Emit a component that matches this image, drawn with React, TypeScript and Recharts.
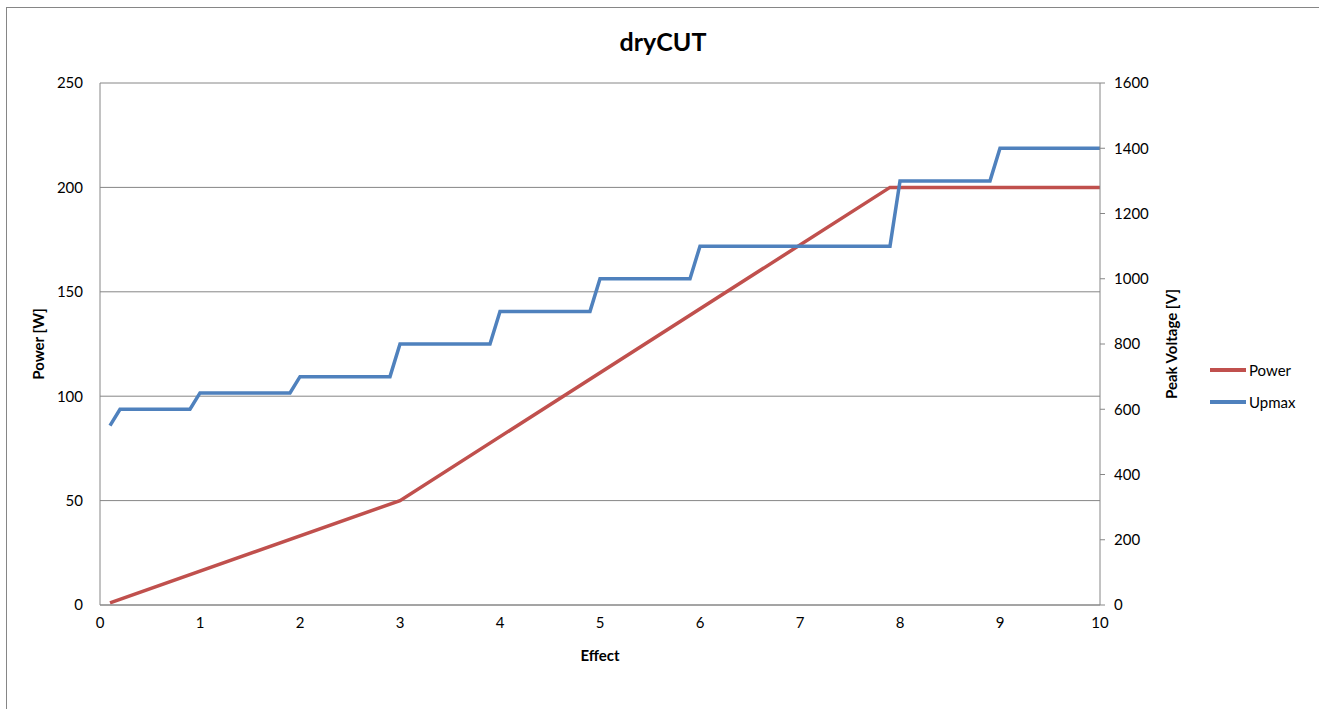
import { CartesianGrid, Label, Line, LineChart, XAxis, YAxis } from 'recharts';

const effectTicks = [0, 1, 2, 3, 4, 5, 6, 7, 8, 9, 10];
const powerTicks = [0, 50, 100, 150, 200, 250];
const voltageTicks = [0, 200, 400, 600, 800, 1000, 1200, 1400, 1600];

const powerEffect = [0.1, 3, 7.9, 10];
const powerValues = [1, 50, 200, 200];

const upmaxEffect = [0.1, 0.2, 0.9, 1, 1.9, 2, 2.9, 3, 3.9, 4, 4.9, 5, 5.9, 6, 7.9, 8, 8.9, 9, 10];
const upmaxValues = [550, 600, 600, 650, 650, 700, 700, 800, 800, 900, 900, 1000, 1000, 1100, 1100, 1300, 1300, 1400, 1400];

const seriesNames = ['Power', 'Upmax'];
const seriesColors = ['#C0504D', '#4F81BD'];

const powerData = powerEffect.map((x, i) => ({ x, power: powerValues[i] }));
const upmaxData = upmaxEffect.map((x, i) => ({ x, upmax: upmaxValues[i] }));

const font = 'Lato, "Open Sans", sans-serif';
const grey = '#868686';
const tickStyle = { fill: '#000', fontSize: 15, fontFamily: font };
const axisTitle = { textAnchor: 'middle' as const, fill: '#000', fontSize: 15, fontWeight: 700, fontFamily: font };

export default function App() {
    return (
        <div style={{ position: 'fixed', left: 0, top: 0, width: 1319, height: 709, background: '#fff', overflow: 'hidden' }}>
            <div style={{ position: 'absolute', left: 6, top: 7, width: 1330, height: 720, border: `1px solid ${grey}` }} />
            <div style={{ position: 'absolute', left: 0, width: 1326, top: 26, textAlign: 'center', fontFamily: font, fontWeight: 700, fontSize: 25 }}>
                dryCUT
            </div>
            <LineChart
                width={1319}
                height={709}
                margin={{ top: 83, right: 139, bottom: 44, left: 0 }}
                style={{ position: 'absolute', left: 0, top: 0 }}
            >
                <CartesianGrid yAxisId="left" vertical={false} stroke={grey} strokeOpacity={1} />
                <XAxis
                    dataKey="x"
                    type="number"
                    domain={[0, 10]}
                    ticks={effectTicks}
                    allowDuplicatedCategory={false}
                    stroke={grey}
                    tickLine={false}
                    tick={tickStyle}
                    tickMargin={6}
                    height={60}
                >
                    <Label value="Effect" position="insideTop" offset={45} style={axisTitle} />
                </XAxis>
                <YAxis
                    yAxisId="left"
                    domain={[0, 250]}
                    ticks={powerTicks}
                    stroke={grey}
                    tickLine={false}
                    tick={tickStyle}
                    tickMargin={11}
                    width={100}
                >
                    <Label value="Power [W]" angle={-90} position="insideLeft" offset={39} style={axisTitle} />
                </YAxis>
                <YAxis
                    yAxisId="right"
                    orientation="right"
                    domain={[0, 1600]}
                    ticks={voltageTicks}
                    stroke={grey}
                    tickSize={5}
                    tick={tickStyle}
                    tickMargin={9}
                    width={80}
                >
                    <Label value="Peak Voltage [V]" angle={-90} position="insideRight" offset={8} style={axisTitle} />
                </YAxis>
                <Line
                    yAxisId="left"
                    data={powerData}
                    dataKey="power"
                    name={seriesNames[0]}
                    type="linear"
                    stroke={seriesColors[0]}
                    strokeWidth={3.5}
                    dot={false}
                    isAnimationActive={false}
                />
                <Line
                    yAxisId="right"
                    data={upmaxData}
                    dataKey="upmax"
                    name={seriesNames[1]}
                    type="linear"
                    stroke={seriesColors[1]}
                    strokeWidth={3.5}
                    dot={false}
                    isAnimationActive={false}
                />
            </LineChart>
            <div style={{ position: 'absolute', left: 1210, top: 354, fontFamily: font, fontSize: 15 }}>
                {seriesNames.map((name, i) => (
                    <div key={name} style={{ display: 'flex', alignItems: 'center', height: 32 }}>
                        <div style={{ width: 36, height: 3.5, background: seriesColors[i], marginRight: 3 }} />
                        <span>{name}</span>
                    </div>
                ))}
            </div>
        </div>
    );
}
